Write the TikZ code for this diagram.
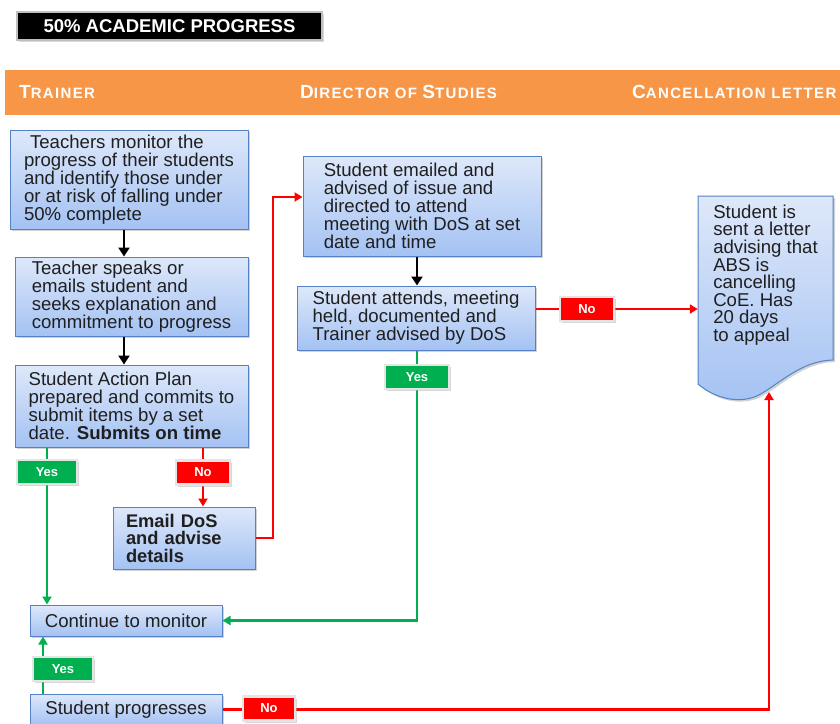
\documentclass[tikz,border=0pt]{standalone}
\usepackage{fontspec}
\setmainfont{Liberation Sans}
\usetikzlibrary{shadows,arrows.meta}

\definecolor{hdr}{RGB}{247,150,70}
\definecolor{boxtop}{RGB}{222,232,250}
\definecolor{boxbot}{RGB}{164,194,243}
\definecolor{boxline}{RGB}{84,130,196}
\definecolor{yesgreen}{RGB}{0,176,80}
\definecolor{nored}{RGB}{255,0,0}

% small-caps style heading: large initial, smaller rest
\newcommand{\hdbig}[1]{{\fontsize{19}{20}\selectfont #1}}
\newcommand{\hdsmall}[1]{{\fontsize{15}{16}\selectfont #1}}

\tikzset{
  flowbox/.style={draw=boxline, line width=1pt, top color=boxtop, bottom color=boxbot,
    align=left, inner xsep=0pt, inner ysep=0pt, text=black!88,
    font=\fontsize{18.6}{18}\selectfont,
    drop shadow={shadow xshift=2pt, shadow yshift=-2pt, fill=black!35, opacity=.5}},
  lab/.style={minimum height=24pt, inner sep=0pt, text=white,
    font=\bfseries\fontsize{13}{14}\selectfont, draw=black!10, line width=2.5pt,
    drop shadow={shadow xshift=2pt, shadow yshift=-2pt, fill=black!30, opacity=.5}},
  yeslab/.style={lab, fill=yesgreen},
  nolab/.style={lab, fill=nored},
  blkarr/.style={line width=2.6pt, black, -{Triangle[length=9pt,width=11pt]}},
  grnarr/.style={line width=2.6pt, yesgreen, -{Triangle[length=8pt,width=9pt]}},
  redarr/.style={line width=2.6pt, nored, -{Triangle[length=8pt,width=9pt]}},
  headtxt/.style={anchor=west, text=white, font=\bfseries\addfontfeature{LetterSpace=9}, inner sep=0pt}
}

\begin{document}
\begin{tikzpicture}[x=1pt, y=-1pt]
\useasboundingbox (0,0) rectangle (840,723);
\clip (0,0) rectangle (840,723);
\fill[white] (0,0) rectangle (840,723);

% title
\node[fill=black, draw=black!25, line width=1.5pt, minimum width=305pt, minimum height=28pt,
      inner sep=0pt, text=white, font=\bfseries\fontsize{18.5}{20}\selectfont,
      drop shadow={shadow xshift=1.5pt, shadow yshift=-2pt, fill=black!25, opacity=.6}]
  (title) at (169.5,26) {50\% ACADEMIC PROGRESS};

% lane header band
\fill[hdr] (5,70) rectangle (845,115);
\node[headtxt] (hT) at (19,92) {\hdbig{T}\hdsmall{RAINER}};
\node[headtxt] (hD) at (300,92) {\hdbig{D}\hdsmall{IRECTOR OF }\hdbig{S}\hdsmall{TUDIES}};
\node[headtxt] (hC) at (632,92) {\hdbig{C}\hdsmall{ANCELLATION LETTER}};

% trainer lane
\node[flowbox, minimum width=238pt, minimum height=99pt] (b1) at (129,179.5)
  {\hspace{6pt}Teachers monitor the\\progress of their students\\and identify those under\\or at risk of falling under\\50\% complete};
\node[flowbox, minimum width=233pt, minimum height=79pt] (b2) at (131.5,296.5)
  {Teacher speaks or\\emails student and\\seeks explanation and\\commitment to progress};
\node[flowbox, minimum width=233pt, minimum height=82pt] (b3) at (131.5,406)
  {Student Action Plan\\prepared and commits to\\submit items by a set\\date. \textbf{Submits on time}};
\node[flowbox, minimum width=142pt, minimum height=62pt, text width=116pt,
      font=\bfseries\fontsize{18.3}{17.5}\selectfont] (email) at (184,538)
  {Email DoS\\and advise\\details};
\node[flowbox, minimum width=192pt, minimum height=31pt] (cont) at (126,620.5)
  {Continue to monitor};
\node[flowbox, minimum width=192pt, minimum height=31pt] (prog) at (126,709.5)
  {Student progresses};

% director of studies lane
\node[flowbox, minimum width=238pt, minimum height=100pt] (b4) at (422,206)
  {Student emailed and\\advised of issue and\\directed to attend\\meeting with DoS at set\\date and time};
\node[flowbox, minimum width=238pt, minimum height=64pt] (b5) at (416,318)
  {Student attends, meeting\\held, documented and\\Trainer advised by DoS};

% cancellation letter (document shape)
\shade[top color=boxtop, bottom color=boxbot, draw=boxline, line width=1pt,
       drop shadow={shadow xshift=2pt, shadow yshift=-2pt, fill=black!35, opacity=.5}]
  (698,196) -- (833,196) -- (833,360)
  .. controls (800,361) and (780,384) .. (757,396)
  .. controls (735,405) and (712,396) .. (698,384) -- cycle;
\node[align=left, inner sep=0pt, minimum width=135pt, minimum height=166pt, text=black!88,
      font=\fontsize{18.6}{17.6}\selectfont] (doc) at (765.5,275)
  {Student is\\sent a letter\\advising that\\ABS is\\cancelling\\CoE. Has\\20 days\\to appeal};
\coordinate (docbase) at (769,392);

% connectors
\draw[blkarr] (b1.south -| 124,0) -- (b2.north -| 124,0);
\draw[blkarr] (b2.south -| 124,0) -- (b3.north -| 124,0);
\draw[blkarr] (b4.south -| 417,0) -- (b5.north -| 417,0);
\draw[grnarr] (b3.south -| 47,0) -- (cont.north -| 47,0);
\draw[redarr] (b3.south -| 203,0) -- (email.north -| 203,0);
\draw[redarr] (email.east) -| (273,197) -- (b4.west |- 273,197);
\draw[redarr] (b5.east |- 0,309) -- (doc.west |- 0,309);
\draw[grnarr] (b5.south -| 417,0) |- (cont.east);
\draw[grnarr] (prog.north -| 43,0) -- (cont.south -| 43,0);
\draw[redarr] (prog.east) -| (docbase);

% decision labels
\node[yeslab, minimum width=60pt] (y1) at (47,472) {Yes};
\node[nolab, minimum width=54pt] (n1) at (203,472.5) {No};
\node[yeslab, minimum width=64pt] (y2) at (417,377) {Yes};
\node[nolab, minimum width=54pt] (n2) at (587,309) {No};
\node[yeslab, minimum width=60pt] (y3) at (63,669) {Yes};
\node[nolab, minimum width=52pt] (n3) at (269,708.5) {No};
\end{tikzpicture}
\end{document}
